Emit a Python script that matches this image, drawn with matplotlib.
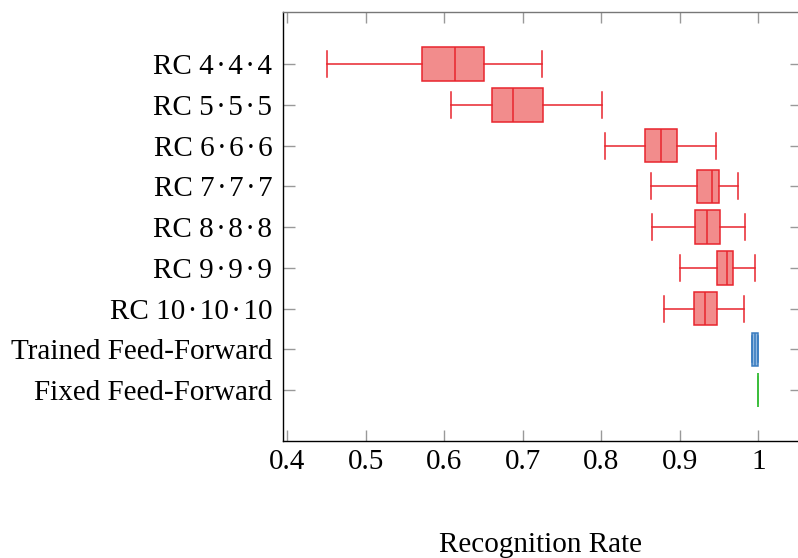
import matplotlib
matplotlib.use("Agg")
import matplotlib.pyplot as plt

T = "\u200a·\u200a"
categories = ["RC 4" + T + "4" + T + "4", "RC 5" + T + "5" + T + "5",
              "RC 6" + T + "6" + T + "6", "RC 7" + T + "7" + T + "7",
              "RC 8" + T + "8" + T + "8", "RC 9" + T + "9" + T + "9",
              "RC 10" + T + "10" + T + "10",
              "Trained Feed-Forward", "Fixed Feed-Forward"]
whislo = [0.450, 0.608, 0.805, 0.863, 0.865, 0.900, 0.8795, 0.9924, 1.0]
q1     = [0.571, 0.661, 0.856, 0.922, 0.920, 0.948, 0.918, 0.9924, 1.0]
med    = [0.614, 0.688, 0.876, 0.941, 0.935, 0.960, 0.9325, 0.9954, 1.0]
q3     = [0.651, 0.726, 0.897, 0.950, 0.951, 0.968, 0.948, 0.9995, 1.0]
whishi = [0.725, 0.801, 0.9465, 0.9745, 0.983, 0.996, 0.982, 1.0, 1.0]
xticks = [0.4, 0.5, 0.6, 0.7, 0.8, 0.9, 1.0]
xticklabels = ["0.4", "0.5", "0.6", "0.7", "0.8", "0.9", "1"]

edge_colors = ["#E8252D"] * 7 + ["#3A7CC0", "#3DBE3D"]
fill_colors = ["#F28C8C"] * 7 + ["#92B9E0", "#9EDC9E"]

plt.rcParams['font.family'] = ['Liberation Serif', 'DejaVu Serif']
fs = 21

fig = plt.figure(figsize=(7.98, 5.58), dpi=100)
ax = fig.add_axes([283.3 / 798, 1 - 441 / 558, (802 - 283.3) / 798, (441 - 12) / 558])

n = len(categories)
positions = list(range(n, 0, -1))
stats = []
for i in range(n):
    stats.append(dict(whislo=whislo[i], q1=q1[i], med=med[i], q3=q3[i],
                      whishi=whishi[i], fliers=[]))

for i in range(n):
    ec = edge_colors[i]
    ax.bxp([stats[i]], positions=[positions[i]], vert=False, widths=0.82,
           capwidths=0.64, patch_artist=True, showfliers=False,
           boxprops=dict(facecolor=fill_colors[i], edgecolor=ec, linewidth=1.1),
           medianprops=dict(color=ec, linewidth=1.1),
           whiskerprops=dict(color=ec, linewidth=1.1),
           capprops=dict(color=ec, linewidth=1.1))

ax.set_xlim(0.3949, 1.0557)
ax.set_ylim(-0.25, 10.28)
ax.set_yticks(positions)
ax.set_yticklabels(categories, fontsize=fs)
ax.set_xticks(xticks)
ax.set_xticklabels(xticklabels, fontsize=fs)

ax.tick_params(axis='both', direction='in', color='#999999', width=1.0)
ax.tick_params(axis='x', length=8, pad=6, top=True, bottom=True)
ax.tick_params(axis='y', length=8.5, pad=8, left=True, right=True)

ax.spines['top'].set_color('#777777')
ax.spines['left'].set_color('black')
ax.spines['bottom'].set_color('black')
for s in ax.spines.values():
    s.set_linewidth(1.0)

fig.text(540.5 / 798, 1 - 545 / 558, "Recognition Rate", ha='center', va='center', fontsize=fs)

fig.savefig("out.png", dpi=100)
